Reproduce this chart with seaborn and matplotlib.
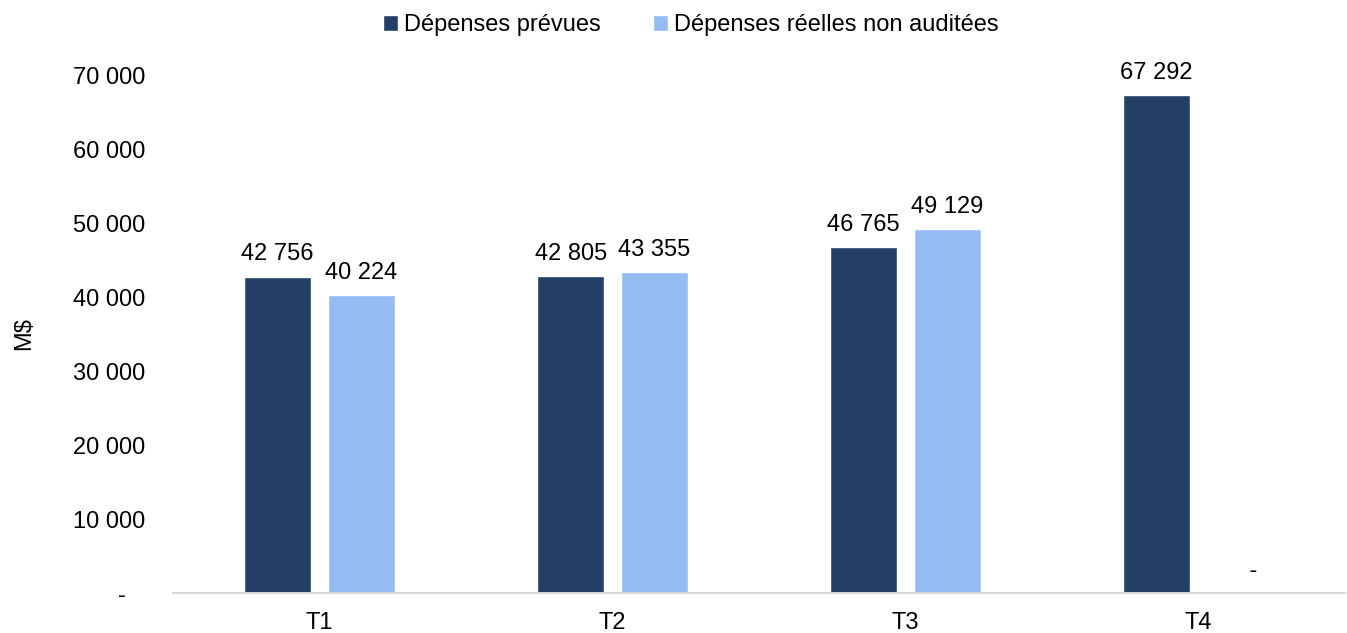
import matplotlib
matplotlib.use("Agg")
import matplotlib.pyplot as plt
import seaborn as sns
import pandas as pd
from matplotlib.ticker import FuncFormatter
from matplotlib.patches import Patch

categories = ["T1", "T2", "T3", "T4"]
series_names = ["Dépenses prévues", "Dépenses réelles non auditées"]
prevues = [42756, 42805, 46765, 67292]
reelles = [40224, 43355, 49129, 0]
colors = ["#243F66", "#95BBF5"]

sns.set_theme(style="white")
plt.rcParams["font.family"] = ["Liberation Sans", "DejaVu Sans"]
plt.rcParams["text.color"] = "black"

df = pd.DataFrame({
    "Trimestre": categories * 2,
    "Série": [series_names[0]] * 4 + [series_names[1]] * 4,
    "Valeur": prevues + reelles,
})

fig = plt.figure(figsize=(13.47, 6.33), dpi=100)
ax = fig.add_axes([173 / 1347, 1 - 593 / 633, (1345 - 173) / 1347, (593 - 75) / 633])

sns.barplot(data=df, x="Trimestre", y="Valeur", hue="Série", palette=colors,
            width=0.57, gap=0.2, ax=ax, legend=False, saturation=1, errorbar=None)

ax.set_ylim(0, 70000)
ax.set_xlim(-0.5, 3.5)
ax.set_yticks(range(0, 70001, 10000))

def fmt(v, zero="-"):
    v = int(round(v))
    return zero if v == 0 else f"{v:,}".replace(",", " ")

ax.yaxis.set_major_formatter(FuncFormatter(lambda v, p: fmt(v, "-   ")))
ax.tick_params(axis="both", length=0, labelsize=17, colors="black")
ax.tick_params(axis="y", pad=20)
ax.tick_params(axis="x", pad=14)
ax.set_xlabel("")
ax.set_ylabel("M$", fontsize=17, color="black")
ax.yaxis.set_label_coords(-0.118, 0.5)

for c in ax.containers:
    ax.bar_label(c, labels=[fmt(b.get_height(), "    -") for b in c], padding=8,
                 fontsize=17, color="black")

for s in ["left", "right", "top"]:
    ax.spines[s].set_visible(False)
ax.spines["bottom"].set_color("#D9D9D9")
ax.spines["bottom"].set_linewidth(1.5)

handles = [Patch(facecolor=colors[i], label=series_names[i]) for i in range(2)]
fig.legend(handles=handles, loc="center", bbox_to_anchor=(691 / 1347, 1 - 25 / 633),
           ncol=2, frameon=False, fontsize=17, handlelength=0.65, handleheight=0.65,
           handletextpad=0.25, columnspacing=2.2, labelcolor="black")

fig.savefig("out.png", dpi=100)
